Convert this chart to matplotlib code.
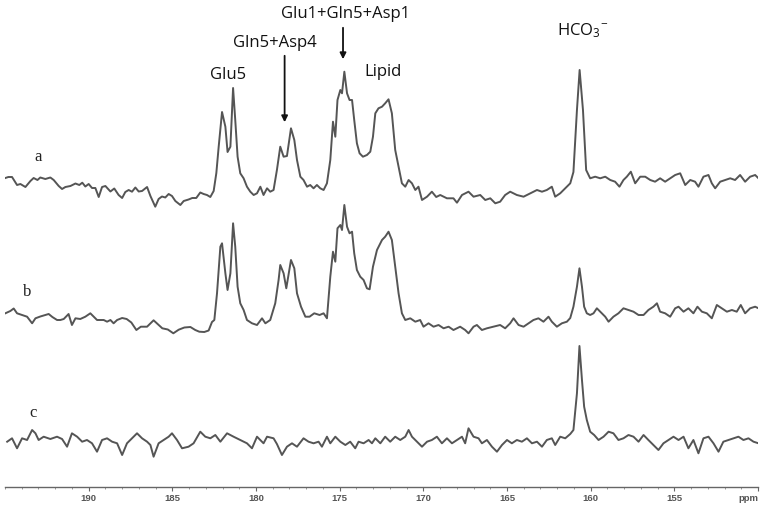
import numpy as np
import matplotlib
matplotlib.use('Agg')
import matplotlib.pyplot as plt
import matplotlib.ticker as ticker

plt.rcParams['mathtext.default'] = 'regular'

# chemical shift (ppm) and intensity (a.u.)
ppm_a = [194.98, 194.80, 194.58, 194.28, 194.08, 193.78, 193.48, 193.29, 193.06, 192.89,
         192.59, 192.29, 192.09, 191.79, 191.59, 191.39, 191.09, 190.79, 190.56, 190.38,
         190.20, 190.00, 189.80, 189.60, 189.40, 189.20, 189.00, 188.70, 188.47, 188.21,
         188.00, 187.81, 187.61, 187.41, 187.21, 187.01, 186.81, 186.51, 186.31, 186.02,
         185.82, 185.62, 185.42, 185.22, 185.02, 184.82, 184.52, 184.32, 184.03, 183.81,
         183.57, 183.33, 183.13, 182.93, 182.73, 182.53, 182.37, 182.23, 182.03, 181.83,
         181.70, 181.53, 181.37, 181.24, 181.10, 180.94, 180.74, 180.54, 180.34, 180.14,
         179.94, 179.74, 179.55, 179.34, 179.15, 178.95, 178.75, 178.55, 178.35, 178.15,
         177.91, 177.71, 177.55, 177.35, 177.16, 176.95, 176.76, 176.56, 176.36, 176.16,
         175.96, 175.76, 175.56, 175.40, 175.26, 175.13, 174.96, 174.86, 174.72, 174.56,
         174.41, 174.26, 174.13, 173.97, 173.81, 173.61, 173.37, 173.17, 173.01, 172.87,
         172.68, 172.47, 172.28, 172.08, 171.88, 171.68, 171.48, 171.28, 171.08, 170.88,
         170.68, 170.48, 170.29, 170.08, 169.78, 169.49, 169.23, 168.99, 168.59, 168.20,
         167.99, 167.69, 167.30, 167.00, 166.60, 166.30, 166.00, 165.70, 165.41, 165.11,
         164.81, 164.41, 164.01, 163.61, 163.21, 162.91, 162.62, 162.32, 162.12, 161.82,
         161.52, 161.22, 161.03, 160.82, 160.66, 160.46, 160.27, 160.03, 159.73, 159.43,
         159.13, 158.83, 158.54, 158.28, 158.04, 157.84, 157.60, 157.34, 157.04, 156.74,
         156.44, 156.15, 155.85, 155.55, 155.25, 154.95, 154.65, 154.35, 154.05, 153.76,
         153.56, 153.26, 152.96, 152.76, 152.56, 152.26, 151.96, 151.66, 151.37, 151.07,
         150.77, 150.47, 150.17, 149.97]
int_a = [12, 13, 13, 5, 6, 3, 9, 12, 10, 12.5,
         11, 12.5, 10, 4, 1, 3, 4, 6.5, 5, 7.3,
         3.5, 6, 2, 2, -7, 3, 4, -1.5, 1.5, -5,
         -8, -2, 0, -1.7, 2.5, -1.5, -1, 3, -6, -16.7,
         -9, -6.5, -7.5, -4, -6, -11, -15, -11, -9.5, -8,
         -8, -2.5, -4, -5, -7, -1, 17, 43.3, 78, 63.3,
         38, 43.3, 102, 70, 33.3, 16.7, 11.7, 3.3, -1.7, -5,
         -3.3, 3.3, -5, 1.7, -1.7, 0, 20, 43.3, 33.3, 34,
         61.7, 50, 30, 13.3, 10, 3.3, 5, 1.7, 5, 1.7,
         0, 6.7, 30, 68.3, 53.3, 90, 100, 96.7, 118.3, 96.7,
         90, 90, 70, 46.7, 36.7, 33.3, 35, 38.3, 53.3, 76.7,
         81.7, 83.3, 86.7, 90.7, 76.7, 40, 23.3, 6.7, 3.3, 10,
         6.7, 0, 3.3, -10, -6.7, -1.7, -7, -5, -8.3, -8.3,
         -12.7, -5, -1.7, -6.7, -5, -10, -8.3, -13.3, -11.7, -5,
         -1.7, -5, -6.7, -3.3, 0, -1.7, 0, 3.3, -6.7, -3.3,
         1.7, 6.7, 18, 80, 120, 80, 20, 11.7, 13.3, 11.7,
         13.3, 10, 8.3, 3.3, 10, 13.3, 18.3, 6.7, 13.3, 13.3,
         10, 8.3, 11.7, 8.3, 11.7, 15, 16.7, 5, 10, 8.3,
         3.3, 13.3, 15, 6.7, 1.7, 8.3, 10, 11.7, 10, 15,
         8.3, 13.3, 15, 11.7]

ppm_b = [194.98, 194.68, 194.48, 194.28, 193.98, 193.68, 193.38, 193.18, 192.89, 192.59,
         192.39, 192.17, 191.89, 191.69, 191.49, 191.20, 191.00, 190.79, 190.50, 190.20,
         189.90, 189.70, 189.50, 189.10, 188.90, 188.70, 188.51, 188.30, 188.00, 187.73,
         187.45, 187.15, 186.88, 186.51, 186.12, 185.81, 185.60, 185.27, 184.94, 184.62,
         184.28, 183.92, 183.63, 183.39, 183.09, 182.83, 182.63, 182.49, 182.33, 182.13,
         182.03, 181.83, 181.70, 181.53, 181.37, 181.24, 181.10, 180.94, 180.74, 180.54,
         180.24, 179.94, 179.64, 179.44, 179.15, 178.85, 178.65, 178.55, 178.35, 178.19,
         177.91, 177.71, 177.55, 177.31, 177.05, 176.80, 176.52, 176.20, 175.96, 175.76,
         175.56, 175.40, 175.26, 175.13, 174.96, 174.86, 174.72, 174.56, 174.41, 174.26,
         174.13, 173.97, 173.77, 173.57, 173.37, 173.21, 173.01, 172.77, 172.47, 172.28,
         172.08, 171.88, 171.68, 171.48, 171.28, 171.08, 170.78, 170.48, 170.19, 169.99,
         169.69, 169.39, 169.09, 168.79, 168.49, 168.20, 167.80, 167.50, 167.30, 167.00,
         166.80, 166.50, 166.20, 165.81, 165.41, 165.11, 164.81, 164.61, 164.31, 164.01,
         163.71, 163.42, 163.12, 162.82, 162.52, 162.32, 162.02, 161.72, 161.42, 161.22,
         161.03, 160.82, 160.67, 160.52, 160.39, 160.23, 160.03, 159.83, 159.63, 159.33,
         159.13, 158.93, 158.64, 158.34, 158.04, 157.74, 157.44, 157.14, 156.84, 156.55,
         156.25, 156.04, 155.85, 155.55, 155.25, 154.95, 154.75, 154.45, 154.16, 153.86,
         153.62, 153.35, 153.06, 152.76, 152.46, 152.16, 151.86, 151.56, 151.27, 151.03,
         150.77, 150.47, 150.17, 149.97]
int_b = [6.7, 9, 11.5, 6.7, 5, 3.3, -3.3, 1.7, 3.5, 5,
         6, 3, 0, 0, 1, 6, -5, 1.7, 1, 3.3,
         6.7, 3.3, 0, 0, -1.7, 0, -3.3, 0, 2, 1,
         -2.5, -10, -6.7, -6.7, -0.3, -5, -8.3, -9.5, -13.3, -9.7,
         -7.5, -7, -10, -11.7, -12, -10.5, -2, 0, 26.7, 73.3,
         76.7, 46.7, 30, 46.7, 96.7, 73.3, 33.3, 16.7, 10, 0,
         -3.3, -5, 1.7, -3.3, 0, 16.7, 40, 55, 46.7, 31.7,
         60, 51.7, 26.7, 13.3, 3.3, 3.3, 6.7, 5, 6.7, 1.7,
         43.3, 68.3, 58.3, 91.7, 95, 90, 115, 93.3, 86.7, 88.3,
         66.7, 50, 43.3, 40, 31.7, 30.7, 53.3, 70, 80, 83.3,
         88.3, 80, 53.3, 26.7, 6.7, 0, 1.7, -1.7, 0, -6.7,
         -3.3, -6.7, -5, -8.3, -6.7, -10, -6.7, -10, -13.3, -6.7,
         -5, -10, -8.3, -6.7, -5, -8.3, -3.3, 1.7, -5, -6.7,
         -3.3, 0, 1.7, -1.7, 3.3, -1.7, -6.7, -3.3, -1.7, 2,
         13.3, 33.3, 51.7, 33.3, 13.3, 6.7, 5, 6.7, 11.7, 6.7,
         3.3, -1.7, 3.3, 6.7, 11.7, 10, 8.3, 5, 5, 10,
         13.3, 16.7, 8.3, 6.7, 3.3, 11.7, 13.3, 8.3, 11.7, 6.7,
         13.3, 8.3, 6.7, 1.7, 15, 11.7, 8.3, 10, 8.3, 15,
         6.7, 11.7, 13.3, 11.7]

ppm_c = [194.87, 194.58, 194.28, 193.98, 193.68, 193.38, 193.18, 192.99, 192.69, 192.29,
         191.89, 191.59, 191.29, 191.00, 190.69, 190.39, 190.10, 189.80, 189.50, 189.20,
         188.90, 188.60, 188.30, 188.00, 187.71, 187.41, 187.11, 186.81, 186.51, 186.31,
         186.12, 185.82, 185.52, 185.22, 185.02, 184.72, 184.42, 184.03, 183.73, 183.33,
         183.03, 182.73, 182.43, 182.13, 181.73, 181.34, 180.94, 180.54, 180.24, 179.94,
         179.55, 179.34, 178.95, 178.75, 178.45, 178.15, 177.85, 177.55, 177.16, 176.86,
         176.56, 176.26, 176.06, 175.76, 175.56, 175.26, 174.96, 174.66, 174.37, 174.07,
         173.87, 173.57, 173.27, 173.07, 172.87, 172.57, 172.28, 171.98, 171.68, 171.38,
         171.08, 170.88, 170.68, 170.38, 170.08, 169.78, 169.49, 169.19, 168.89, 168.59,
         168.29, 167.99, 167.69, 167.50, 167.30, 167.00, 166.70, 166.50, 166.20, 165.90,
         165.60, 165.30, 165.00, 164.71, 164.41, 164.11, 163.81, 163.51, 163.21, 162.91,
         162.62, 162.32, 162.12, 161.82, 161.52, 161.22, 161.03, 160.82, 160.67, 160.52,
         160.39, 160.23, 160.03, 159.79, 159.53, 159.23, 158.93, 158.64, 158.34, 158.04,
         157.74, 157.44, 157.14, 156.84, 156.55, 156.25, 155.95, 155.65, 155.35, 155.05,
         154.75, 154.45, 154.16, 153.86, 153.56, 153.26, 152.96, 152.66, 152.36, 152.07,
         151.77, 151.47, 151.17, 150.87, 150.57, 150.27, 149.97]
int_c = [-1.7, 1.7, -8.3, 1.7, 0, 10, 6.7, 0, 3.3, 1,
         3.3, 1, -6.7, 6.7, 3.3, -1.7, 0, -3.3, -11.7, 0,
         1.7, -1.7, -3.3, -15, -3.3, 1.7, 6.7, 1.7, -1.7, -5,
         -16.7, -3.3, 0, 3.3, 6.7, 0, -8.3, -6.7, -3.3, 8.3,
         3.3, 1.7, 5, -1.7, 6.7, 3.3, 0, -3.3, -8.3, 3.3,
         -3.3, 3.3, 1.7, -4, -15, -6.7, -3.3, -6.7, 1.7, -1.7,
         -3.3, -1.7, -6.7, 3.3, -3.3, 3.3, -1.7, -5, -1.7, -8.3,
         -1.7, -3.3, 0, -3.3, 1.7, -3.3, 3.3, -1.7, 3.3, 0,
         3.3, 10, 3.3, -1.7, -6.7, -1.7, 0, 3.3, -3.3, 1.7,
         -3.3, 0, 3.3, -3.3, 11.7, 3.3, 1.7, -3.3, 0, -6.7,
         -11.7, -5, 0, -3.3, 0, -1.7, 1.7, -3.3, -1.7, -6.7,
         0, 1.7, -5, 3.3, 1.7, 6, 10, 46.7, 94, 60,
         33.3, 20, 8.3, 5, 0, 3.3, 8.3, 6.7, 0, 1.7,
         5, 3.3, -1.7, 5, 0, -5, -10, -3.3, 0, 3.3,
         0, 3.3, -8.3, 0, -13.3, 1.7, 3.3, -3.3, -11.7, -1.7,
         0, 1.7, 3.3, 0, 1.7, -1.7, -3.3]

labels = ['a', 'b', 'c']
major_ticks = [190, 185, 180, 175, 170, 165, 160, 155, 150]

fig = plt.figure(figsize=(7.66, 5.09), dpi=100)
ax = fig.add_axes([5 / 766, 22 / 509, 753 / 766, 487 / 509])

offsets = [297, 167, 47]
line_col = '#555555'
for (x, y), off in zip([(ppm_a, int_a), (ppm_b, int_b), (ppm_c, int_c)], offsets):
    ax.plot(x, np.array(y) + off, color=line_col, lw=1.4, solid_joinstyle='round')

ax.set_xlim(195, 150)
ax.set_ylim(0, 487)

for s in ['top', 'left', 'right']:
    ax.spines[s].set_visible(False)
ax.spines['bottom'].set_color('#666666')
ax.spines['bottom'].set_linewidth(1.0)
ax.set_yticks([])

ax.xaxis.set_major_locator(ticker.FixedLocator(major_ticks))
ax.xaxis.set_major_formatter(ticker.FuncFormatter(lambda v, p: 'ppm' if v == 150 else '%d' % v))
ax.xaxis.set_minor_locator(ticker.MultipleLocator(1))
ax.tick_params(axis='x', which='major', length=3, width=0.8, color='#666666',
               labelsize=6.8, labelcolor='#555555', pad=2)
ax.tick_params(axis='x', which='minor', length=1.5, width=0.6, color='#888888')
fig.canvas.draw()
for lab in ax.get_xticklabels():
    lab.set_fontweight('bold')
    lab.set_family('Liberation Sans')
    if lab.get_text() == 'ppm':
        lab.set_horizontalalignment('right')

# trace letters
letter_pos = [(193.05, 330), (193.68, 195), (193.35, 74)]
for lab, (px, py) in zip(labels, letter_pos):
    ax.text(px, py, lab, fontsize=12, family='Liberation Serif', color='#222222',
            ha='center', va='center')

# peak annotations
ann_font = dict(fontsize=12, family='Open Sans', color='#111111', ha='center', va='center')
ax.text(181.65, 412, 'Glu5', **ann_font)
ax.text(178.85, 444, 'Gln5+Asp4', **ann_font)
ax.text(174.66, 473, 'Glu1+Gln5+Asp1', **ann_font)
ax.text(172.39, 415, 'Lipid', **ann_font)
ax.text(160.51, 456, r'HCO$_3$$^{-}$', **ann_font)

arrow = dict(arrowstyle='-|>', color='#111111', lw=1.3, mutation_scale=9)
ax.annotate('', xy=(178.29, 362), xytext=(178.29, 434), arrowprops=arrow)
ax.annotate('', xy=(174.80, 425), xytext=(174.80, 462), arrowprops=arrow)

fig.savefig('out.png', dpi=100)
